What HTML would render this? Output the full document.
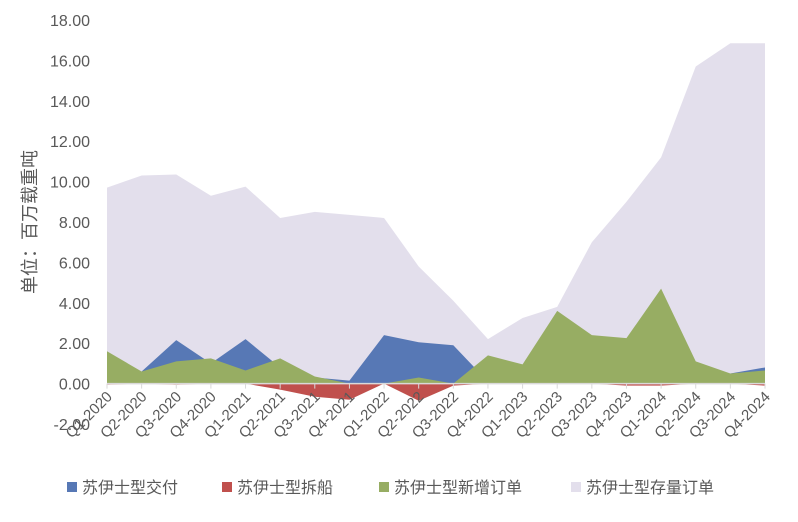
<!DOCTYPE html>
<html><head><meta charset="utf-8"><style>
body{margin:0;background:#fff;}
svg text{font-family:"Liberation Sans","Noto Sans CJK SC",sans-serif;fill:#595959;}
</style></head><body>
<svg width="798" height="517" id="chart">
<g id="plot"></g>
<g id="yax"></g>
<g id="xax"></g>
<text transform="translate(36,222) rotate(-90)" text-anchor="middle" font-size="18">单位：百万载重吨</text>
<g font-size="16">
 <g><rect x="67" y="482" width="10" height="10" fill="#5778b5"/><text x="82" y="493">苏伊士型交付</text></g>
 <g><rect x="222" y="482" width="10" height="10" fill="#c0504d"/><text x="237" y="493">苏伊士型拆船</text></g>
 <g><rect x="379" y="482" width="10" height="10" fill="#97ad63"/><text x="394" y="493">苏伊士型新增订单</text></g>
 <g><rect x="571" y="482" width="10" height="10" fill="#e3dfec"/><text x="586" y="493">苏伊士型存量订单</text></g>
</g>
</svg>
<script>
const categories=["Q1-2020","Q2-2020","Q3-2020","Q4-2020","Q1-2021","Q2-2021","Q3-2021","Q4-2021","Q1-2022","Q2-2022","Q3-2022","Q4-2022","Q1-2023","Q2-2023","Q3-2023","Q4-2023","Q1-2024","Q2-2024","Q3-2024","Q4-2024"];
const orderbook=[9.7,10.3,10.35,9.3,9.75,8.2,8.5,8.35,8.2,5.8,4.1,2.2,3.25,3.8,7.0,9.0,11.2,15.7,16.85,16.85];
const delivery=[0,0.6,2.15,1.0,2.2,0.8,0.3,0.15,2.4,2.05,1.9,0.1,0,0,0,0,0,0,0.5,0.8];
const demolition=[-0.05,0,-0.05,0,0,-0.3,-0.65,-0.8,0,-0.85,-0.1,0,0,0,0,-0.1,-0.1,0,0,-0.1];
const newOrders=[1.6,0.6,1.1,1.25,0.65,1.25,0.35,0,0,0.3,0,1.4,0.95,3.6,2.4,2.25,4.7,1.1,0.5,0.65];
const yTicks=["-2.00","0.00","2.00","4.00","6.00","8.00","10.00","12.00","14.00","16.00","18.00"];
const NS="http://www.w3.org/2000/svg";
const x0=107,x1=765,yTop=20,yBot=424,yMin=-2,yMax=18;
const X=i=>x0+i*(x1-x0)/(categories.length-1);
const Y=v=>yBot-(v-yMin)/(yMax-yMin)*(yBot-yTop);
function mk(t,p,a){const e=document.createElementNS(NS,t);for(const k in a)e.setAttribute(k,a[k]);p.appendChild(e);return e;}
const plot=document.getElementById('plot');
function area(vals,color,name){
 let d="M"+X(0)+","+Y(0);
 vals.forEach((v,i)=>d+=" L"+X(i)+","+Y(v));
 d+=" L"+X(vals.length-1)+","+Y(0)+" Z";
 const p=mk('path',plot,{d:d,fill:color});
 
 
}
area(orderbook,"#e3dfec","orderbook-area");
area(delivery,"#5778b5","delivery-area");
area(demolition,"#c0504d","demolition-area");
area(newOrders,"#97ad63","new-orders-area");
const xax=document.getElementById('xax');
const ax=mk('line',xax,{x1:x0,x2:x1,y1:Y(0),y2:Y(0),stroke:"#d9d9d9","stroke-width":1.5});


categories.forEach((c,i)=>{
 const tk=mk('line',xax,{x1:X(i),x2:X(i),y1:Y(0),y2:Y(0)+5,stroke:"#d9d9d9"});
 
 
 const t=mk('text',xax,{transform:`translate(${X(i)+6},${Y(0)+14}) rotate(-45)`,"text-anchor":"end","font-size":15});
 t.textContent=c;
 
 
});
const yax=document.getElementById('yax');
yTicks.forEach(s=>{
 const t=mk('text',yax,{x:90,y:Y(parseFloat(s))+6,"text-anchor":"end","font-size":16});
 t.textContent=s;
 
 
});
</script>
</body></html>
